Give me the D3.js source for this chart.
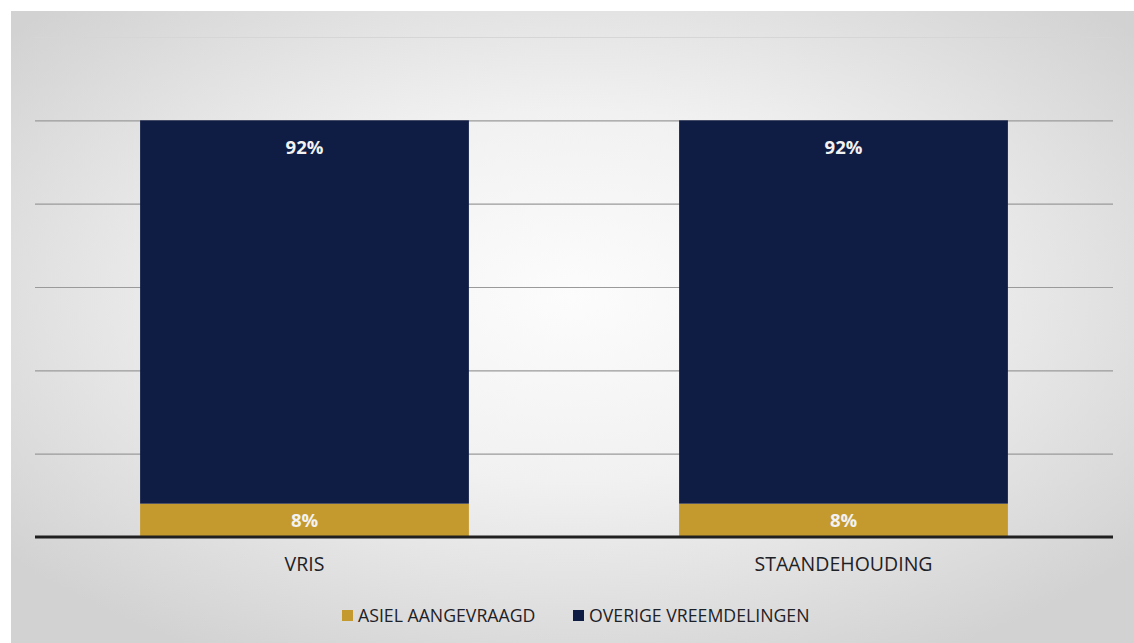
<!DOCTYPE html>
<html>
<head>
<meta charset="utf-8">
<script src="https://cdn.jsdelivr.net/npm/d3@7"></script>
<style>
  body { margin: 0; background: #fff; }
  svg { display: block; }
  .catLabel { font-family: "Open Sans", sans-serif; font-size: 19.5px; fill: #1e2126; }
  .valLabel { font-family: "Open Sans", sans-serif; font-size: 18.5px; font-weight: bold; fill: #f2f2f2; }
  .legendText { font-family: "Open Sans", sans-serif; font-size: 17.7px; fill: #1e2126; }
</style>
</head>
<body>
<div id="chart"></div>
<script>
// data
var categories = ["VRIS", "STAANDEHOUDING"];
var seriesNames = ["ASIEL AANGEVRAAGD", "OVERIGE VREEMDELINGEN"];
var asielValues = [8, 8];
var overigeValues = [92, 92];
var yTicks = [0, 20, 40, 60, 80, 100, 120];

var colors = ["#c49a2e", "#0f1c44"];

var svgWidth = 1134;
var svgHeight = 643;

var margin = { top: 37, right: 21, bottom: 106, left: 35 };
var width = svgWidth - margin.left - margin.right;
var height = svgHeight - margin.top - margin.bottom;

var svg = d3.select("#chart")
  .append("svg")
  .attr("width", svgWidth)
  .attr("height", svgHeight);

// photographed slide background
var defs = svg.append("defs");
var grad = defs.append("radialGradient")
  .attr("id", "bg")
  .attr("cx", "50%").attr("cy", "45%")
  .attr("r", "65%");
grad.append("stop").attr("offset", "0%").attr("stop-color", "#fcfcfc");
grad.append("stop").attr("offset", "45%").attr("stop-color", "#f1f1f1");
grad.append("stop").attr("offset", "100%").attr("stop-color", "#d2d2d2");

svg.append("rect")
  .attr("x", 11).attr("y", 11)
  .attr("width", svgWidth - 11).attr("height", svgHeight - 11)
  .attr("fill", "url(#bg)");

var chartGroup = svg.append("g")
  .attr("transform", `translate(${margin.left}, ${margin.top})`);

var table = categories.map(function(c, i) {
  return { cat: c, asiel: asielValues[i], overige: overigeValues[i] };
});

var stack = d3.stack().keys(["asiel", "overige"]);
var stacked = stack(table);

var xScale = d3.scaleBand()
  .domain(categories)
  .range([0, width])
  .paddingInner(0.39)
  .paddingOuter(0.195);

var yScale = d3.scaleLinear()
  .domain([0, 120])
  .range([height, 0]);

// gridlines
var yAxis = d3.axisLeft(yScale)
  .tickValues(yTicks.slice(1))
  .tickSize(-width)
  .tickFormat("");

var grid = chartGroup.append("g").call(yAxis);
grid.select(".domain").remove();
grid.selectAll(".tick line")
  .attr("stroke", "#9a9a9a")
  .attr("stroke-width", 1.2);
grid.selectAll(".tick")
  .filter(d => d === 120)
  .select("line")
  .attr("stroke", "#d6d6d6");

// bars
var layers = chartGroup.selectAll(".layer")
  .data(stacked)
  .enter()
  .append("g")
  .attr("class", "layer")
  .attr("fill", (d, i) => colors[i]);

layers.selectAll("rect")
  .data(d => d)
  .enter()
  .append("rect")
  .attr("x", d => xScale(d.data.cat))
  .attr("y", d => yScale(d[1]))
  .attr("width", xScale.bandwidth())
  .attr("height", d => yScale(d[0]) - yScale(d[1]));

// value labels
chartGroup.selectAll(".lblAsiel")
  .data(stacked[0])
  .enter()
  .append("text")
  .attr("class", "valLabel")
  .attr("text-anchor", "middle")
  .attr("x", d => xScale(d.data.cat) + xScale.bandwidth() / 2)
  .attr("y", d => (yScale(d[0]) + yScale(d[1])) / 2)
  .attr("dy", "0.36em")
  .text(d => (d[1] - d[0]) + "%");

chartGroup.selectAll(".lblOverige")
  .data(stacked[1])
  .enter()
  .append("text")
  .attr("class", "valLabel")
  .attr("text-anchor", "middle")
  .attr("x", d => xScale(d.data.cat) + xScale.bandwidth() / 2)
  .attr("y", d => yScale(d[1]) + 34)
  .text(d => (d[1] - d[0]) + "%");

// x axis
var xAxis = d3.axisBottom(xScale).tickSize(0).tickPadding(20);
var xg = chartGroup.append("g")
  .attr("transform", `translate(0, ${height})`)
  .call(xAxis);
xg.select(".domain").remove();
xg.selectAll("text").attr("class", "catLabel").attr("font-size", null).attr("font-family", null).attr("fill", null);

chartGroup.append("line")
  .attr("x1", 0).attr("x2", width)
  .attr("y1", height).attr("y2", height)
  .attr("stroke", "#202020")
  .attr("stroke-width", 3);

// legend
var legendX = [342, 573];
var legend = svg.selectAll(".legend")
  .data(seriesNames)
  .enter()
  .append("g")
  .attr("class", "legend")
  .attr("transform", (d, i) => `translate(${legendX[i]}, 616)`);

legend.append("rect")
  .attr("x", 0).attr("y", -6)
  .attr("width", 11).attr("height", 11)
  .attr("fill", (d, i) => colors[i]);

legend.append("text")
  .attr("class", "legendText")
  .attr("x", 16)
  .attr("dy", "0.35em")
  .text(d => d);
</script>
</body>
</html>
